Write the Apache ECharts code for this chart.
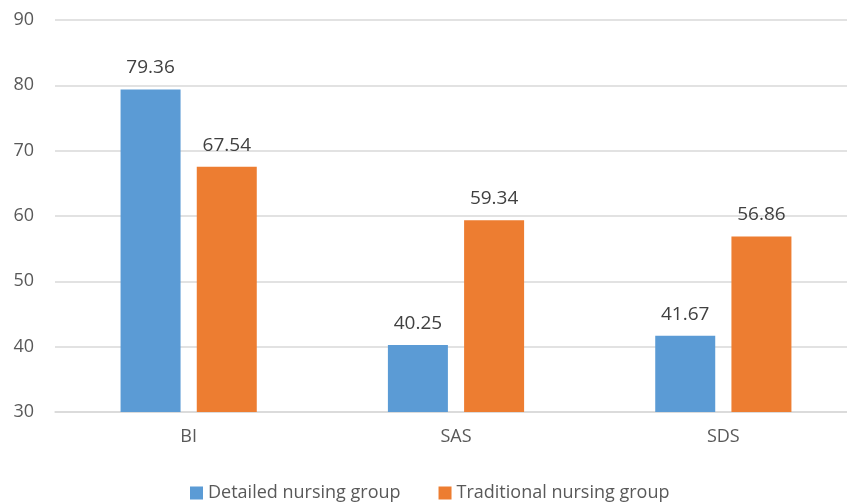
<!DOCTYPE html>
<html lang="en">
	<head>
		<meta charset="UTF-8">
		<title>Nursing groups</title>
		<script src="https://cdn.jsdelivr.net/npm/echarts@6/dist/echarts.min.js"></script>
		<style>
			html, body { margin: 0; padding: 0; background: #fff; overflow: hidden; }
			/* plot area runs past the right edge of the window, as in the original */
			#main { width: 857px; height: 502px; }
		</style>
	</head>
	<body>
		<div id="main"></div>
		<script>
			var categories = ['BI', 'SAS', 'SDS'];
			var seriesNames = ['Detailed nursing group', 'Traditional nursing group'];
			var detailed = [79.36, 40.25, 41.67];
			var traditional = [67.54, 59.34, 56.86];
			var yTicks = { min: 30, max: 90, step: 10 };

			var font = '"Open Sans", "Noto Sans", sans-serif';
			var myChart = echarts.init(document.getElementById('main'), null, { renderer: 'canvas' });

			// label shown above each bar
			var barLabel = {
				show: true,
				position: 'top',
				distance: 12,
				color: '#404040',
				fontSize: 19,
				fontFamily: font,
				formatter: function (p) { return p.value.toFixed(2); }
			};

			var option = {
				animation: false,
				grid: { left: 55, top: 20, right: 0, bottom: 90, containLabel: false },
				legend: {
					data: seriesNames,
					top: 479,
					left: 185,
					itemWidth: 13,
					itemHeight: 13,
					itemGap: 38,
					icon: 'rect',
					textStyle: { color: '#595959', fontSize: 18, fontFamily: font }
				},
				xAxis: {
					type: 'category',
					data: categories,
					axisTick: { show: false },
					axisLine: { lineStyle: { color: '#d9d9d9', width: 1.5 } },
					axisLabel: { color: '#595959', fontSize: 18, fontFamily: font, margin: 16 }
				},
				yAxis: {
					type: 'value',
					min: yTicks.min,
					max: yTicks.max,
					interval: yTicks.step,
					axisLine: { show: false },
					axisTick: { show: false },
					splitLine: { lineStyle: { color: '#d9d9d9', width: 1.5 } },
					axisLabel: { color: '#595959', fontSize: 18, fontFamily: font, margin: 21 }
				},
				series: [
					{
						name: seriesNames[0],
						type: 'bar',
						data: detailed,
						barWidth: 60,
						barGap: '27%',
						itemStyle: { color: '#5B9BD5' },
						label: barLabel
					},
					{
						name: seriesNames[1],
						type: 'bar',
						data: traditional,
						barWidth: 60,
						barGap: '27%',
						itemStyle: { color: '#ED7D31' },
						label: barLabel
					}
				]
			};
			myChart.setOption(option);
		</script>
	</body>
</html>
